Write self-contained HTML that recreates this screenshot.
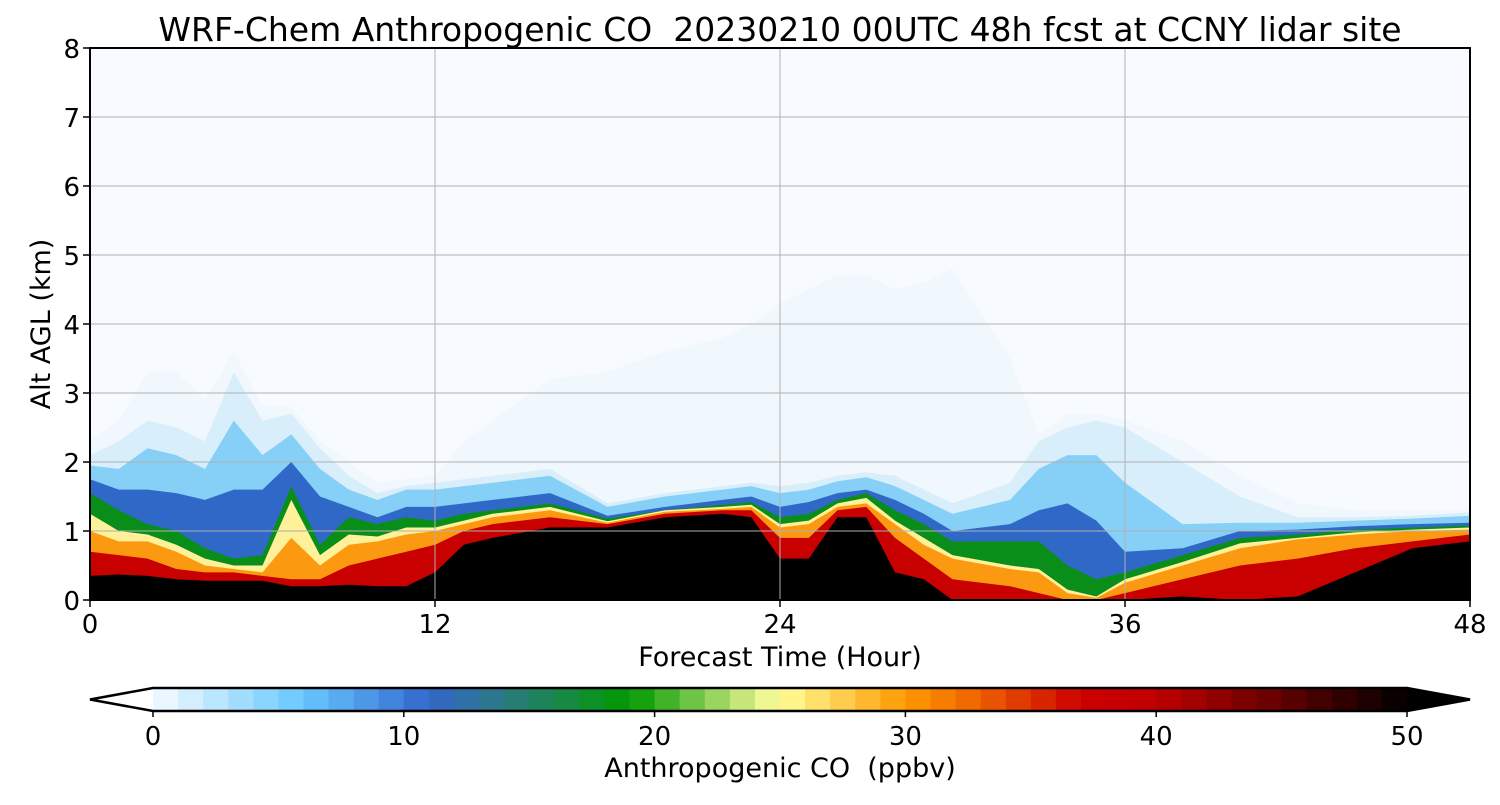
<!DOCTYPE html>
<html><head><meta charset="utf-8"><style>
body{margin:0;background:#fff;width:1500px;height:800px;overflow:hidden}
svg text{font-family:"DejaVu Sans","Liberation Sans",sans-serif;fill:#000;white-space:pre}
</style></head><body>
<svg id="chart" width="1500" height="800" viewBox="0 0 1500 800">
<defs>
<clipPath id="clip"><rect x="90" y="48" width="1380" height="552"/></clipPath>
</defs>
<text x="780" y="41" font-size="33" text-anchor="middle">WRF-Chem Anthropogenic CO  20230210 00UTC 48h fcst at CCNY lidar site</text>
<g id="plot" clip-path="url(#clip)"></g>
<g id="axes"></g>
<g id="cbar"></g>
<text x="780" y="666" font-size="27" text-anchor="middle">Forecast Time (Hour)</text>
<text transform="translate(50,324) rotate(-90)" font-size="27" text-anchor="middle">Alt AGL (km)</text>
<text x="780" y="777" font-size="27" text-anchor="middle">Anthropogenic CO  (ppbv)</text>
</svg>
<script>
// forecast hours
const times=[0,1,2,3,4,5,6,7,8,9,10,11,12,13,14,16,18,20,22,23,24,25,26,27,28,29,30,32,33,34,35,36,38,40,42,44,46,48];
// top altitude (km) of each concentration level
const paleTop=[2.3,2.6,3.3,3.3,2.9,3.6,2.8,2.8,2.3,2.0,1.7,1.75,1.8,2.3,2.6,3.2,3.3,3.6,3.8,4.0,4.3,4.5,4.7,4.7,4.5,4.6,4.8,3.5,2.4,2.7,2.7,2.6,2.3,1.8,1.4,1.3,1.3,1.3];
const lightTop=[2.1,2.3,2.6,2.5,2.3,3.3,2.6,2.7,2.2,1.8,1.55,1.65,1.7,1.75,1.8,1.9,1.4,1.55,1.65,1.7,1.65,1.7,1.8,1.85,1.8,1.6,1.4,1.7,2.3,2.5,2.6,2.5,2.0,1.5,1.2,1.2,1.22,1.27];
const skyTop=[1.95,1.9,2.2,2.1,1.9,2.6,2.1,2.4,1.9,1.6,1.45,1.6,1.6,1.65,1.7,1.8,1.35,1.5,1.6,1.65,1.55,1.6,1.72,1.78,1.65,1.45,1.25,1.45,1.9,2.1,2.1,1.7,1.1,1.12,1.12,1.15,1.18,1.22];
const blueTop=[1.75,1.6,1.6,1.55,1.45,1.6,1.6,2.0,1.5,1.35,1.2,1.35,1.35,1.4,1.45,1.55,1.22,1.35,1.45,1.5,1.35,1.42,1.55,1.6,1.45,1.25,1.0,1.1,1.3,1.4,1.15,0.7,0.75,1.0,1.02,1.07,1.1,1.12];
const greenTop=[1.55,1.3,1.1,1.0,0.75,0.6,0.65,1.65,0.8,1.2,1.1,1.2,1.15,1.25,1.3,1.4,1.18,1.3,1.38,1.42,1.2,1.25,1.45,1.55,1.3,1.1,0.85,0.85,0.85,0.5,0.3,0.4,0.65,0.9,0.95,1.02,1.05,1.08];
const yellowTop=[1.25,1.0,0.95,0.8,0.6,0.5,0.5,1.45,0.65,0.95,0.92,1.05,1.05,1.15,1.25,1.35,1.14,1.3,1.35,1.38,1.1,1.15,1.4,1.48,1.15,0.9,0.65,0.5,0.45,0.15,0.05,0.3,0.55,0.82,0.9,0.98,1.02,1.05];
const orangeTop=[1.0,0.85,0.85,0.7,0.5,0.45,0.4,0.9,0.5,0.8,0.85,0.95,1.0,1.1,1.2,1.3,1.12,1.28,1.32,1.35,1.05,1.1,1.35,1.4,1.1,0.8,0.6,0.45,0.4,0.1,0.03,0.25,0.5,0.75,0.88,0.95,1.0,1.02];
const redTop=[0.7,0.65,0.6,0.45,0.4,0.4,0.35,0.3,0.3,0.5,0.6,0.7,0.8,1.0,1.1,1.2,1.1,1.25,1.3,1.3,0.9,0.9,1.3,1.35,0.9,0.6,0.3,0.2,0.1,0.0,0.0,0.1,0.3,0.5,0.6,0.75,0.85,0.95];
const blackTop=[0.35,0.37,0.35,0.3,0.28,0.28,0.28,0.2,0.2,0.22,0.2,0.2,0.4,0.8,0.9,1.05,1.05,1.2,1.25,1.2,0.6,0.6,1.2,1.2,0.4,0.3,0.0,0.0,0.0,0.0,0.0,0.0,0.05,0.0,0.05,0.4,0.75,0.85];
const levelNames=['pale','light','sky','blue','green','yellow','orange','red','black'];
const levelColors=['#f0f7fd','#d9eefb','#86d0f8','#3068c8','#0a8e1a','#fff199','#fb9a10','#c80000','#000000'];
const levels=[paleTop,lightTop,skyTop,blueTop,greenTop,yellowTop,orangeTop,redTop,blackTop];
const xTicks=[0,12,24,36,48];
const yTicks=[0,1,2,3,4,5,6,7,8];
const cbTicks=[0,10,20,30,40,50];
const cbStopVals=[0,6,11,14,19,24,25,30,33,37,40,50];
const cbStopCols=['#f7fbff','#66c8ff','#3366cc','#2a7a80','#009900','#dcee88','#ffff99','#ff9900','#ee6000','#cc0000','#c00000','#000000'];

const NS='http://www.w3.org/2000/svg';
const X0=90,X1=1470,Y0=600,Y1=48;
const xs=t=>X0+(t/48)*(X1-X0);
const ys=z=>Y0-(z/8)*(Y0-Y1);
const plot=document.getElementById('plot'),axes=document.getElementById('axes'),cbar=document.getElementById('cbar');
function mk(tag,attrs,parent){const e=document.createElementNS(NS,tag);for(const k in attrs)e.setAttribute(k,attrs[k]);parent.appendChild(e);return e;}

const bg=mk('rect',{x:X0,y:Y1,width:X1-X0,height:Y0-Y1,fill:'#f7fbff'},plot);


levels.forEach((arr,i)=>{
  let d='M'+(xs(times[0])-10)+','+(ys(0)+10);
  d+=' L'+(xs(times[0])-10)+','+ys(arr[0]).toFixed(1);
  times.forEach((t,j)=>{d+=' L'+xs(t).toFixed(1)+','+ys(arr[j]).toFixed(1);});
  d+=' L'+(xs(times[times.length-1])+10)+','+ys(arr[arr.length-1]).toFixed(1);
  d+=' L'+(xs(times[times.length-1])+10)+','+(ys(0)+10)+' Z';
  const p=mk('path',{d:d,fill:levelColors[i],stroke:'none'},plot);
  
  
});

xTicks.forEach(t=>{
  const g=mk('line',{x1:xs(t),x2:xs(t),y1:Y1,y2:Y0,stroke:'#b0b0b0','stroke-width':1},axes);
  
  
  mk('line',{x1:xs(t),x2:xs(t),y1:Y0,y2:Y0+7,stroke:'#000','stroke-width':1.5},axes);
  const tx=mk('text',{x:xs(t),y:Y0+33,'font-size':26,'text-anchor':'middle'},axes);tx.textContent=t;
  
  
});
yTicks.forEach(z=>{
  const g=mk('line',{x1:X0,x2:X1,y1:ys(z),y2:ys(z),stroke:'#b0b0b0','stroke-width':1},axes);
  
  
  mk('line',{x1:X0-7,x2:X0,y1:ys(z),y2:ys(z),stroke:'#000','stroke-width':1.5},axes);
  const tx=mk('text',{x:X0-10,y:ys(z)+10,'font-size':26,'text-anchor':'end'},axes);tx.textContent=z;
  
  
});
const fr=mk('rect',{x:X0,y:Y1,width:X1-X0,height:Y0-Y1,fill:'none',stroke:'#000','stroke-width':2},axes);



// colorbar
const C0=153,C1=1407,CT=688,CB=711;
const cx=v=>C0+(v/50)*(C1-C0);
function hex(c){return [1,3,5].map(i=>parseInt(c.substr(i,2),16));}
function colAt(v){for(let i=0;i<cbStopVals.length-1;i++){if(v<=cbStopVals[i+1]){const a=hex(cbStopCols[i]),b=hex(cbStopCols[i+1]);const f=(v-cbStopVals[i])/(cbStopVals[i+1]-cbStopVals[i]);return 'rgb('+a.map((x,k)=>Math.round(x+(b[k]-x)*f)).join(',')+')';}}return '#000';}
const lt=mk('polygon',{points:`${C0},${CT} 90,${(CT+CB)/2} ${C0},${CB}`,fill:'#fff'},cbar);


for(let v=0;v<50;v++){
  const r=mk('rect',{x:cx(v),y:CT,width:cx(v+1)-cx(v)+0.5,height:CB-CT,fill:colAt(v+0.5)},cbar);
  
  
}
const rt=mk('polygon',{points:`${C1},${CT} 1470,${(CT+CB)/2} ${C1},${CB}`,fill:'#000'},cbar);


mk('polygon',{points:`90,${(CT+CB)/2} ${C0},${CT} ${C1},${CT} 1470,${(CT+CB)/2} ${C1},${CB} ${C0},${CB}`,fill:'none',stroke:'#000','stroke-width':2.5},cbar);
cbTicks.forEach(v=>{
  mk('line',{x1:cx(v),x2:cx(v),y1:CB,y2:CB+6,stroke:'#000','stroke-width':1.5},cbar);
  const tx=mk('text',{x:cx(v),y:CB+34,'font-size':26,'text-anchor':'middle'},cbar);tx.textContent=v;
  
  
});
</script>
</body></html>
